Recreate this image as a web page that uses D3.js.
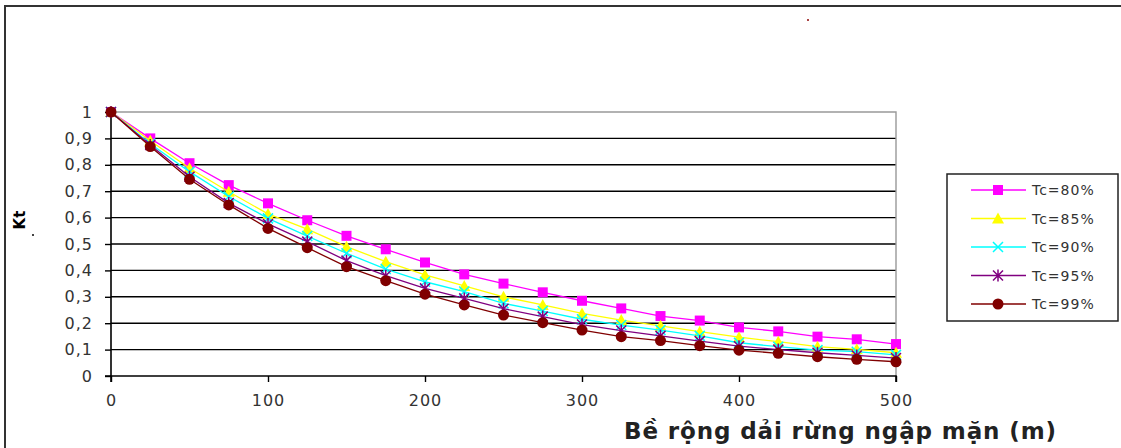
<!DOCTYPE html>
<html>
<head>
<meta charset="utf-8">
<script src="https://cdn.jsdelivr.net/npm/d3@7"></script>
<style>
  body { margin: 0; background: #fff; }
  text { font-family: "DejaVu Sans", Verdana, sans-serif; }
</style>
</head>
<body>
<svg width="1121" height="448"></svg>
<script>
// width of mangrove belt (m)
var widths = [0, 25, 50, 75, 100, 125, 150, 175, 200, 225, 250, 275, 300, 325, 350, 375, 400, 425, 450, 475, 500];

var tc80 = [1, 0.90, 0.806, 0.723, 0.654, 0.59, 0.531, 0.48, 0.43, 0.385, 0.35, 0.317, 0.285, 0.256, 0.227, 0.21, 0.184, 0.169, 0.149, 0.139, 0.121];
var tc85 = [1, 0.891, 0.787, 0.698, 0.614, 0.556, 0.49, 0.433, 0.383, 0.341, 0.30, 0.269, 0.237, 0.212, 0.19, 0.168, 0.147, 0.13, 0.111, 0.101, 0.088];
var tc90 = [1, 0.88, 0.774, 0.68, 0.597, 0.53, 0.465, 0.405, 0.357, 0.32, 0.275, 0.246, 0.215, 0.193, 0.174, 0.152, 0.126, 0.111, 0.098, 0.092, 0.08];
var tc95 = [1, 0.875, 0.755, 0.655, 0.576, 0.509, 0.437, 0.38, 0.332, 0.294, 0.255, 0.225, 0.195, 0.172, 0.152, 0.132, 0.113, 0.1, 0.088, 0.078, 0.068];
var tc99 = [1, 0.869, 0.745, 0.648, 0.559, 0.486, 0.414, 0.361, 0.31, 0.269, 0.231, 0.202, 0.174, 0.149, 0.134, 0.115, 0.098, 0.086, 0.073, 0.063, 0.054];

var seriesNames = ["Tc=80%", "Tc=85%", "Tc=90%", "Tc=95%", "Tc=99%"];
var xTicks = [0, 100, 200, 300, 400, 500];
var yTicks = [0, 0.1, 0.2, 0.3, 0.4, 0.5, 0.6, 0.7, 0.8, 0.9, 1];

var series = [
  { name: seriesNames[0], values: tc80, color: "#ff00ff", marker: "square" },
  { name: seriesNames[1], values: tc85, color: "#ffff00", marker: "triangle" },
  { name: seriesNames[2], values: tc90, color: "#00ffff", marker: "x" },
  { name: seriesNames[3], values: tc95, color: "#800080", marker: "star" },
  { name: seriesNames[4], values: tc99, color: "#800000", marker: "circle" }
];

var svg = d3.select("svg");

// outer chart frame
svg.append("rect")
  .attr("x", 5).attr("y", 6).attr("width", 1130).attr("height", 460)
  .attr("fill", "none").attr("stroke", "#333").attr("stroke-width", 2);

var x = d3.scaleLinear().domain([0, 500]).range([111, 896]);
var y = d3.scaleLinear().domain([0, 1]).range([376, 112]);

var fmt = function (d) { return d === 0 || d === 1 ? String(d) : d3.format(".1f")(d).replace(".", ","); };

// gridlines
svg.append("g")
  .selectAll("line")
  .data(yTicks.filter(function (d) { return d > 0 && d < 1; }))
  .join("line")
  .attr("x1", x(0)).attr("x2", x(500))
  .attr("y1", d => y(d)).attr("y2", d => y(d))
  .attr("stroke", "#000").attr("stroke-width", 1.4);

// plot-area border (top & right gray)
svg.append("path")
  .attr("d", "M" + x(0) + "," + y(1) + "H" + x(500) + "V" + y(0))
  .attr("fill", "none").attr("stroke", "#999").attr("stroke-width", 1.4);

var yAxis = svg.append("g")
  .attr("transform", "translate(" + x(0) + ",0)")
  .call(d3.axisLeft(y).tickValues(yTicks).tickFormat(fmt).tickSize(6).tickPadding(12));
var xAxis = svg.append("g")
  .attr("transform", "translate(0," + y(0) + ")")
  .call(d3.axisBottom(x).tickValues(xTicks).tickSize(6).tickPadding(13));

[xAxis, yAxis].forEach(function (a) {
  a.select(".domain").attr("stroke", "#000").attr("stroke-width", 1.6);
  a.selectAll(".tick line").attr("stroke", "#000").attr("stroke-width", 1.4);
  a.selectAll("text")
    .attr("font-family", "'DejaVu Sans', Verdana, sans-serif")
    .attr("font-size", 16).attr("letter-spacing", 1).attr("fill", "#333");
});
yAxis.select(".domain").attr("d", "M-6," + y(0) + "H0V" + y(1));
xAxis.select(".domain").attr("d", "M" + x(0) + ",6V0H" + x(500) + "V6");

function drawMarker(g, type, color, size) {
  var s = size;
  if (type === "square") {
    g.append("rect").attr("x", -s).attr("y", -s).attr("width", 2 * s).attr("height", 2 * s).attr("fill", color);
  } else if (type === "triangle") {
    g.append("path").attr("d", "M0," + (-s - 1) + "L" + (s + 1) + "," + s + "L" + (-s - 1) + "," + s + "Z").attr("fill", color);
  } else if (type === "x") {
    g.append("path").attr("d", "M" + (-s) + "," + (-s) + "L" + s + "," + s + "M" + s + "," + (-s) + "L" + (-s) + "," + s)
      .attr("stroke", color).attr("stroke-width", 1.5);
  } else if (type === "star") {
    g.append("path").attr("d", "M" + (-s) + "," + (-s) + "L" + s + "," + s + "M" + s + "," + (-s) + "L" + (-s) + "," + s + "M0," + (-s - 1) + "V" + (s + 1))
      .attr("stroke", color).attr("stroke-width", 1.5);
  } else {
    g.append("circle").attr("r", s + 0.5).attr("fill", color);
  }
}

var line = d3.line()
  .x(function (d, i) { return x(widths[i]); })
  .y(function (d) { return y(d); });

series.forEach(function (s) {
  svg.append("path")
    .datum(s.values)
    .attr("fill", "none")
    .attr("stroke", s.color)
    .attr("stroke-width", 1.3)
    .attr("d", line);
  s.values.forEach(function (v, i) {
    var m = svg.append("g").attr("transform", "translate(" + x(widths[i]) + "," + y(v) + ")");
    drawMarker(m, s.marker, s.color, 5);
  });
});

// axis titles
svg.append("text")
  .attr("transform", "translate(25,220) rotate(-90)")
  .attr("text-anchor", "middle")
  .attr("font-size", 15).attr("font-weight", "bold").attr("fill", "#000")
  .text("Kt");

svg.append("text")
  .attr("x", 840).attr("y", 439)
  .attr("text-anchor", "middle")
  .attr("font-family", "Arial, 'Liberation Sans', sans-serif")
  .attr("font-size", 23).attr("font-weight", "bold").attr("fill", "#222")
  .attr("textLength", 432).attr("lengthAdjust", "spacing")
  .text("Bề rộng dải rừng ngập mặn (m)");

// small stray marks visible in the original
svg.append("rect").attr("x", 807).attr("y", 19).attr("width", 2).attr("height", 2).attr("fill", "#a44");
svg.append("rect").attr("x", 32).attr("y", 234).attr("width", 2).attr("height", 2).attr("fill", "#444");

// legend
var legend = svg.append("g");
legend.append("rect")
  .attr("x", 947).attr("y", 174).attr("width", 171).attr("height", 147)
  .attr("fill", "#fff").attr("stroke", "#222").attr("stroke-width", 1.5);

series.forEach(function (s, i) {
  var ly = 190 + i * 28.5;
  legend.append("line")
    .attr("x1", 971).attr("x2", 1026).attr("y1", ly).attr("y2", ly)
    .attr("stroke", s.color).attr("stroke-width", 1.3);
  var m = legend.append("g").attr("transform", "translate(998," + ly + ")");
  drawMarker(m, s.marker, s.color, 5);
  legend.append("text")
    .attr("x", 1032).attr("y", ly + 5)
    .attr("font-size", 14).attr("letter-spacing", 1).attr("fill", "#333")
    .text(s.name);
});
</script>
</body>
</html>
